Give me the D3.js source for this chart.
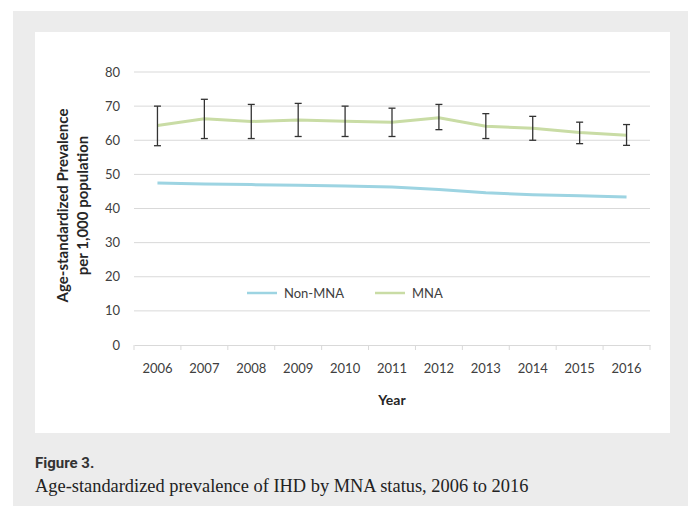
<!DOCTYPE html>
<html>
<head>
<meta charset="utf-8">
<script src="https://cdn.jsdelivr.net/npm/d3@7"></script>
<style>
  body { margin: 0; background: #fff; }
  svg { display: block; }
</style>
</head>
<body>
<div id="chart"></div>
<script>
// data
const years = ["2006", "2007", "2008", "2009", "2010", "2011", "2012", "2013", "2014", "2015", "2016"];
const nonMna = [47.5, 47.2, 47.0, 46.8, 46.6, 46.3, 45.6, 44.6, 44.0, 43.7, 43.4];
const mna = [64.3, 66.3, 65.5, 65.9, 65.6, 65.3, 66.6, 64.1, 63.5, 62.3, 61.5];
const mnaLow = [58.4, 60.5, 60.5, 61.1, 61.1, 61.1, 63.1, 60.5, 60.0, 59.0, 58.5];
const mnaHigh = [70.0, 72.0, 70.5, 70.8, 70.0, 69.4, 70.5, 67.8, 67.0, 65.3, 64.6];
const yTicks = [0, 10, 20, 30, 40, 50, 60, 70, 80];

const width = 688, height = 506;
const margin = {top: 72, right: 38, bottom: 161, left: 134};
const w = width - margin.left - margin.right;
const h = height - margin.top - margin.bottom;

let root = d3.select("#chart").append("svg")
    .attr("width", width)
    .attr("height", height);

// grey frame + white panel
root.append("rect").attr("x", 13).attr("y", 11).attr("width", width - 13).attr("height", height - 11).attr("fill", "#ececec");
root.append("rect").attr("x", 35).attr("y", 32).attr("width", 635).attr("height", 401).attr("fill", "#fff");

let svg = root.append("g").attr("transform", `translate(${margin.left}, ${margin.top})`);

let x = d3.scaleBand().domain(years).range([0, w]).padding(0);
let y = d3.scaleLinear().domain([0, 80]).range([h, 0]);
let cx = d => x(d) + x.bandwidth() / 2;

// gridlines
svg.append("g").selectAll("line").data(yTicks.slice(1)).enter()
    .append("line")
    .attr("x1", 0).attr("x2", w)
    .attr("y1", d => y(d)).attr("y2", d => y(d))
    .attr("stroke", "#d9d9d9").attr("stroke-width", 1);

// y tick labels
svg.append("g").selectAll("text").data(yTicks).enter()
    .append("text")
    .attr("x", -14).attr("y", d => y(d))
    .attr("dy", "0.35em")
    .style("text-anchor", "end")
    .style("font-family", "Lato, 'Open Sans', sans-serif")
    .style("font-size", "13px")
    .attr("fill", "#404040")
    .text(d => d);

// x axis, ticks between categories
let xAxis = svg.append("g").attr("transform", `translate(0, ${h})`)
    .call(d3.axisBottom(x).tickSize(0).tickPadding(19));
xAxis.select(".domain").attr("stroke", "#d9d9d9");
xAxis.selectAll("text")
    .style("font-family", "Lato, 'Open Sans', sans-serif")
    .style("font-size", "13px")
    .attr("fill", "#404040");
xAxis.selectAll(".bound").data(years.concat(["end"])).enter()
    .append("line").attr("class", "bound")
    .attr("x1", (d, i) => i * x.step()).attr("x2", (d, i) => i * x.step())
    .attr("y1", 0).attr("y2", 5)
    .attr("stroke", "#d9d9d9");

// lines
let line = d3.line().x((d, i) => cx(years[i])).y(d => y(d));

svg.append("path").datum(nonMna)
    .attr("d", line).attr("fill", "none")
    .attr("stroke", "#9dd4e2").attr("stroke-width", 3);

svg.append("path").datum(mna)
    .attr("d", line).attr("fill", "none")
    .attr("stroke", "#c9dca5").attr("stroke-width", 3);

// error bars
let eb = svg.append("g").attr("stroke", "#333").attr("stroke-width", 1.3);
years.forEach(function(yr, i) {
    eb.append("line").attr("x1", cx(yr)).attr("x2", cx(yr)).attr("y1", y(mnaLow[i])).attr("y2", y(mnaHigh[i]));
    eb.append("line").attr("x1", cx(yr) - 3.5).attr("x2", cx(yr) + 3.5).attr("y1", y(mnaLow[i])).attr("y2", y(mnaLow[i]));
    eb.append("line").attr("x1", cx(yr) - 3.5).attr("x2", cx(yr) + 3.5).attr("y1", y(mnaHigh[i])).attr("y2", y(mnaHigh[i]));
});

// legend
let legend = [{name: "Non-MNA", color: "#9dd4e2", x: 113}, {name: "MNA", color: "#c9dca5", x: 241}];
let lg = svg.append("g").attr("transform", `translate(0, ${y(0) - 52})`);
legend.forEach(function(l) {
    lg.append("line").attr("x1", l.x).attr("x2", l.x + 30).attr("y1", 0).attr("y2", 0)
        .attr("stroke", l.color).attr("stroke-width", 2.5);
    lg.append("text").attr("x", l.x + 37).attr("y", 0).attr("dy", "0.35em")
        .style("font-family", "Lato, 'Open Sans', sans-serif")
        .style("font-size", "13px")
        .attr("fill", "#404040")
        .text(l.name);
});

// axis titles
svg.append("text")
    .attr("transform", `translate(${w / 2}, ${h + 60})`)
    .style("text-anchor", "middle")
    .style("font-family", "Lato, 'Open Sans', sans-serif")
    .style("font-size", "14px").style("font-weight", "bold")
    .attr("fill", "#262626")
    .text("Year");

let yt = svg.append("text")
    .attr("transform", `translate(-66, ${h / 2 - 3}) rotate(-90)`)
    .style("text-anchor", "middle")
    .style("font-family", "Lato, 'Open Sans', sans-serif")
    .style("font-size", "15px").style("font-weight", "bold")
    .attr("fill", "#262626");
yt.append("tspan").attr("x", 0).attr("dy", 0).text("Age-standardized Prevalence");
yt.append("tspan").attr("x", 0).attr("dy", "1.35em").text("per 1,000 population");

// figure caption
root.append("text")
    .attr("x", 35).attr("y", 468)
    .style("font-family", "'Liberation Sans Narrow', Roboto, sans-serif")
    .style("font-size", "15px").style("font-weight", "bold")
    .attr("fill", "#333")
    .text("Figure 3.");

root.append("text")
    .attr("x", 35).attr("y", 492)
    .style("font-family", "'Liberation Serif', 'DejaVu Serif', serif")
    .style("font-size", "18.4px")
    .attr("fill", "#222")
    .text("Age-standardized prevalence of IHD by MNA status, 2006 to 2016");
</script>
</body>
</html>
